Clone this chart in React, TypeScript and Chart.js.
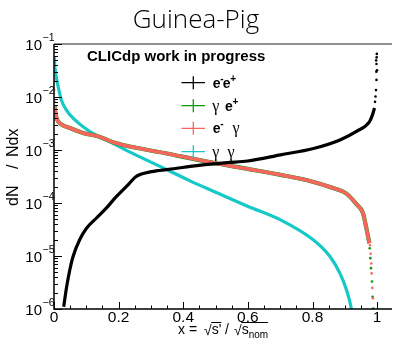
import React, { useEffect, useRef } from "react";
import { Chart, registerables } from "chart.js";

Chart.register(...registerables);

// ---------- data ----------
// e- e+ (black)
const eeX = [0.030, 0.039, 0.049, 0.059, 0.079, 0.100, 0.130, 0.161, 0.192, 0.232, 0.252, 0.302, 0.355, 0.454, 0.537, 0.599, 0.701, 0.803, 0.885, 0.936, 0.976, 0.985, 0.992];
const eeY = [1.1e-6, 2.6e-6, 5.5e-6, 9.8e-6, 2.0e-5, 3.3e-5, 5.1e-5, 7.9e-5, 1.3e-4, 2.3e-4, 3.1e-4, 3.9e-4, 4.3e-4, 5.2e-4, 5.8e-4, 6.2e-4, 8.1e-4, 1.07e-3, 1.55e-3, 2.24e-3, 3.4e-3, 4.5e-3, 6.2e-3];
const eeTailX = [0.9935, 0.995, 0.9965, 0.998, 0.9975, 0.9995, 0.998, 0.997, 0.9985, 0.999];
const eeTailY = [8.1e-3, 1.02e-2, 1.35e-2, 2.1e-2, 3.0e-2, 3.2e-2, 4.2e-2, 4.9e-2, 5.6e-2, 6.5e-2];

// e- gamma (red) and gamma e+ (green, under the red)
const egX = [0.002, 0.004, 0.008, 0.018, 0.049, 0.090, 0.140, 0.191, 0.345, 0.508, 0.599, 0.701, 0.803, 0.854, 0.905, 0.936, 0.956, 0.966, 0.976];
const egY = [6.6e-3, 5.2e-3, 4.0e-3, 3.2e-3, 2.6e-3, 2.1e-3, 1.78e-3, 1.35e-3, 8.7e-4, 5.5e-4, 4.4e-4, 3.4e-4, 2.5e-4, 2.0e-4, 1.5e-4, 9.5e-5, 6.5e-5, 3.5e-5, 1.74e-5];
const egTailX = [0.0005, 0.001, 0.978, 0.980, 0.982, 0.983, 0.985, 0.987];
const egTailY = [1.35e-2, 8.1e-3, 1.6e-5, 1.1e-5, 7.2e-6, 4.7e-6, 2.5e-6, 1.6e-6];
const geX = [0.002, 0.004, 0.008, 0.018, 0.049, 0.090, 0.140, 0.191, 0.345, 0.508, 0.599, 0.701, 0.803, 0.854, 0.905, 0.936, 0.956, 0.966, 0.976];
const geY = [6.6e-3, 5.2e-3, 4.0e-3, 3.2e-3, 2.6e-3, 2.1e-3, 1.78e-3, 1.35e-3, 8.7e-4, 5.5e-4, 4.4e-4, 3.4e-4, 2.5e-4, 2.0e-4, 1.5e-4, 9.5e-5, 6.5e-5, 3.5e-5, 1.74e-5];
const geTailX = [0.977, 0.979, 0.981, 0.984, 0.986, 0.988];
const geTailY = [1.4e-5, 9.1e-6, 5.9e-6, 3.3e-6, 1.7e-6, 1.02e-6];

// gamma gamma (cyan)
const ggX = [0.001, 0.002, 0.003, 0.006, 0.013, 0.023, 0.039, 0.059, 0.090, 0.130, 0.181, 0.232, 0.355, 0.416, 0.500, 0.599, 0.701, 0.803, 0.854, 0.885, 0.905, 0.920, 0.925];
const ggY = [5.6e-2, 4.3e-2, 3.5e-2, 2.6e-2, 1.55e-2, 8.7e-3, 5.6e-3, 4.0e-3, 2.75e-3, 1.9e-3, 1.35e-3, 9.3e-4, 4.1e-4, 2.7e-4, 1.6e-4, 8.7e-5, 4.8e-5, 2.0e-5, 9.8e-6, 4.7e-6, 2.3e-6, 1.02e-6, 6e-7];

// axes
const xTickValues = [0, 0.2, 0.4, 0.6, 0.8, 1];
const xTickLabels = ["0", "0.2", "0.4", "0.6", "0.8", "1"];
const xMinorStep = 0.05;
const yExponents = [-1, -2, -3, -4, -5, -6];
const yExpLabels = ["\u22121", "\u22122", "\u22123", "\u22124", "\u22125", "\u22126"];

const colBlack = "#000000";
const colGreen = "#0a990a";
const colRed = "#f8655f";
const colCyan = "#16c8c8";

const SANS = '"Liberation Sans", Arial, Helvetica, sans-serif';
const SERIF = '"Liberation Serif", "DejaVu Serif", serif';

const zip = (xs: number[], ys: number[]) => xs.map((x, i) => ({ x, y: ys[i] }));

type Run = { t: string; f: string; x: number; dy?: number };

const drawRuns = (ctx: CanvasRenderingContext2D, y: number, runs: Run[]) => {
  for (const r of runs) {
    ctx.font = r.f;
    ctx.fillText(r.t, r.x, y + (r.dy || 0));
  }
};

const overlay = {
  id: "overlay",
  afterDatasetsDraw(chart: any) {
    const ctx: CanvasRenderingContext2D = chart.ctx;
    const { left, top, right, bottom } = chart.chartArea;
    const xs = chart.scales.x;
    const ys = chart.scales.y;
    ctx.save();

    // frame
    ctx.lineCap = "butt";
    ctx.strokeStyle = "#6a6a6a";
    ctx.lineWidth = 1.5;
    ctx.beginPath();
    ctx.moveTo(left, top);
    ctx.lineTo(right, top);
    ctx.stroke();
    ctx.strokeStyle = "#000";
    ctx.lineWidth = 1.5;
    ctx.beginPath();
    ctx.moveTo(left, top);
    ctx.lineTo(left, bottom);
    ctx.lineTo(right, bottom);
    ctx.stroke();

    // y ticks (inside)
    ctx.lineWidth = 1;
    ctx.beginPath();
    for (const e of yExponents) {
      const y = Math.round(ys.getPixelForValue(Math.pow(10, e))) + 0.5;
      ctx.moveTo(left, y);
      ctx.lineTo(left + 8, y);
      if (e > -1) continue;
      for (let m = 2; m <= 9; m++) {
        const v = m * Math.pow(10, e);
        if (v > 0.1) continue;
        const yy = Math.round(ys.getPixelForValue(v)) + 0.5;
        ctx.moveTo(left, yy);
        ctx.lineTo(left + 4, yy);
      }
    }
    ctx.stroke();

    // x ticks (inside)
    ctx.beginPath();
    for (let i = 0; i * xMinorStep <= xs.max + 1e-9; i++) {
      const v = i * xMinorStep;
      const x = Math.round(xs.getPixelForValue(v)) + 0.5;
      const major = xTickValues.some((t) => Math.abs(t - v) < 1e-9);
      ctx.moveTo(x, bottom);
      ctx.lineTo(x, bottom - (major ? 7 : 3.5));
    }
    ctx.stroke();

    // y labels
    ctx.fillStyle = "#000";
    ctx.textBaseline = "middle";
    yExponents.forEach((e, i) => {
      const y = ys.getPixelForValue(Math.pow(10, e));
      ctx.font = `15px ${SANS}`;
      ctx.textAlign = "right";
      ctx.fillText("10", 42, y + 2);
      ctx.font = `10.5px ${SANS}`;
      ctx.textAlign = "left";
      ctx.fillText(yExpLabels[i], 42.5, y - 6);
    });

    // x labels
    ctx.textAlign = "center";
    ctx.font = `15.5px ${SANS}`;
    xTickValues.forEach((v, i) => {
      ctx.fillText(xTickLabels[i], xs.getPixelForValue(v), 318);
    });

    // x axis title: x = √s' / √s_nom
    ctx.textAlign = "left";
    ctx.textBaseline = "alphabetic";
    const base = 334;
    let cx = 178;
    ctx.font = `14px ${SANS}`;
    ctx.fillText("x =", cx, base);
    cx = 204;
    ctx.fillText("\u221A", cx, base + 1);
    let w = ctx.measureText("\u221A").width;
    let rs = cx + w - 0.5;
    ctx.fillText("s'", rs + 0.5, base);
    let re = rs + 0.5 + ctx.measureText("s'").width;
    ctx.lineWidth = 1;
    ctx.beginPath();
    ctx.moveTo(rs, base - 11.5);
    ctx.lineTo(re, base - 11.5);
    ctx.stroke();
    ctx.fillText("/", 225, base);
    cx = 234;
    ctx.fillText("\u221A", cx, base + 1);
    w = ctx.measureText("\u221A").width;
    rs = cx + w - 0.5;
    ctx.fillText("s", rs + 0.5, base);
    const sx = rs + 0.5 + ctx.measureText("s").width;
    ctx.font = `10px ${SANS}`;
    ctx.fillText("nom", sx, base + 4);
    re = sx + ctx.measureText("nom").width;
    ctx.beginPath();
    ctx.moveTo(rs, base - 11.5);
    ctx.lineTo(re, base - 11.5);
    ctx.stroke();

    // y axis title
    ctx.save();
    ctx.translate(18, 0);
    ctx.rotate(-Math.PI / 2);
    ctx.font = `16px ${SANS}`;
    ctx.textBaseline = "alphabetic";
    ctx.textAlign = "left";
    ctx.fillText("dN", -206, 0);
    ctx.fillText("/", -169, 0);
    ctx.fillText("Ndx", -157, 0);
    ctx.restore();

    // title
    ctx.textAlign = "center";
    ctx.font = `300 26px "Open Sans", Lato, sans-serif`;
    ctx.fillText("Guinea-Pig", 196, 28);

    // CLICdp label
    ctx.textAlign = "left";
    ctx.font = `bold 15px ${SANS}`;
    ctx.fillText("CLICdp work in progress", 87, 61);

    // legend
    const rows = [82.7, 105.7, 128.3, 151.7];
    const cols = [colBlack, colGreen, colRed, colCyan];
    rows.forEach((ry, i) => {
      ctx.strokeStyle = cols[i];
      ctx.lineWidth = 1.3;
      ctx.beginPath();
      ctx.moveTo(181.5, ry);
      ctx.lineTo(205, ry);
      ctx.moveTo(193.3, ry - 6.5);
      ctx.lineTo(193.3, ry + 6.5);
      ctx.stroke();
    });
    ctx.fillStyle = "#000";
    const B = `bold 14px ${SANS}`;
    const BS = `bold 10px ${SANS}`;
    const G = `16px ${SERIF}`;
    drawRuns(ctx, rows[0] + 4.8, [
      { t: "e", f: B, x: 212.7 },
      { t: "-", f: BS, x: 220.2, dy: -6 },
      { t: "e", f: B, x: 222.7 },
      { t: "+", f: BS, x: 230.3, dy: -5.5 },
    ]);
    drawRuns(ctx, rows[1] + 4.8, [
      { t: "\u03B3", f: G, x: 212.3 },
      { t: "e", f: B, x: 225 },
      { t: "+", f: BS, x: 232.6, dy: -5.5 },
    ]);
    drawRuns(ctx, rows[2] + 4.8, [
      { t: "e", f: B, x: 212.7 },
      { t: "-", f: BS, x: 220.2, dy: -6 },
      { t: "\u03B3", f: G, x: 232.5 },
    ]);
    drawRuns(ctx, rows[3] + 4.8, [
      { t: "\u03B3", f: G, x: 212.3 },
      { t: "\u03B3", f: G, x: 227.5 },
    ]);

    ctx.restore();
  },
};

export default function App() {
  const ref = useRef<HTMLCanvasElement | null>(null);
  useEffect(() => {
    if (!ref.current) return;
    const lineDs = (label: string, xs: number[], ys: number[], color: string, width: number, order: number) => ({
      label,
      data: zip(xs, ys),
      showLine: true,
      borderColor: color,
      backgroundColor: color,
      borderWidth: width,
      pointRadius: 0,
      cubicInterpolationMode: "monotone" as const,
      order,
    });
    const dotDs = (label: string, xs: number[], ys: number[], color: string, order: number) => ({
      label,
      data: zip(xs, ys),
      showLine: false,
      borderColor: color,
      backgroundColor: color,
      borderWidth: 0,
      pointRadius: 1.3,
      order,
    });
    const chart = new Chart(ref.current, {
      type: "scatter",
      data: {
        datasets: [
          lineDs("e-e+", eeX, eeY, colBlack, 3.2, 0),
          dotDs("e-e+ tail", eeTailX, eeTailY, colBlack, 0),
          lineDs("e- gamma", egX, egY, colRed, 3.6, 1),
          dotDs("e- gamma tail", egTailX, egTailY, colRed, 1),
          lineDs("gamma e+", geX, geY, colGreen, 4.2, 2),
          dotDs("gamma e+ tail", geTailX, geTailY, colGreen, 2),
          lineDs("gamma gamma", ggX, ggY, colCyan, 3.2, 3),
        ],
      },
      options: {
        animation: false,
        responsive: false,
        layout: { padding: { left: 54, top: 44, right: 0, bottom: 32 } },
        plugins: { legend: { display: false }, tooltip: { enabled: false }, title: { display: false } },
        scales: {
          x: { type: "linear", min: 0, max: 1.046, display: false },
          y: { type: "logarithmic", min: 1e-6, max: 0.1, display: false },
        },
      },
      plugins: [overlay],
    });
    return () => chart.destroy();
  }, []);
  return (
    <div style={{ position: "fixed", left: 0, top: 0, width: 396, height: 341, background: "#fff" }}>
      <canvas ref={ref} width={396} height={341} style={{ display: "block", width: 396, height: 341 }} />
    </div>
  );
}
